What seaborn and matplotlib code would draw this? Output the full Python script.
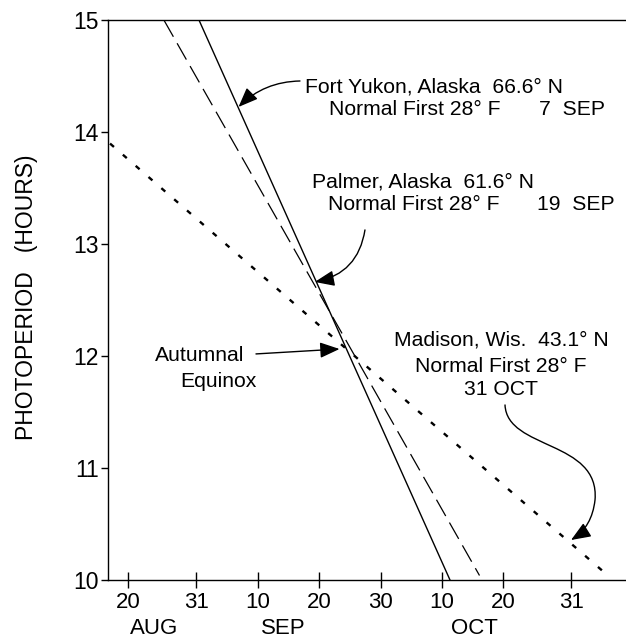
import matplotlib
matplotlib.use("Agg")
import numpy as np
import pandas as pd
import seaborn as sns
import matplotlib.pyplot as plt
from matplotlib.patches import FancyArrowPatch
from matplotlib.path import Path
import matplotlib.transforms as mtransforms

# Photoperiod lines (x = day of year, y = hours)
fort_yukon_doy = [243.5, 267.0, 284.3]
fort_yukon_hours = [15.0, 12.12, 10.0]
palmer_doy = [237.8, 267.6, 289.1]
palmer_hours = [15.0, 12.12, 10.04]
madison_doy = [229.0, 266.5, 310.4]
madison_hours = [13.90, 12.11, 10.02]

x_ticks = [232, 243, 253, 263, 273, 283, 293, 304]
x_tick_labels = ["20", "31", "10", "20", "30", "10", "20", "31"]
months = ["AUG", "SEP", "OCT"]
month_pos = [236.1, 257.2, 288.3]
y_ticks = [10, 11, 12, 13, 14, 15]

sns.set_theme(style="ticks")
plt.rcParams["font.family"] = ["Liberation Sans", "DejaVu Sans"]
plt.rcParams["text.color"] = "black"
plt.rcParams["axes.labelcolor"] = "black"
plt.rcParams["xtick.color"] = "black"
plt.rcParams["ytick.color"] = "black"

fig = plt.figure(figsize=(6.26, 6.41), dpi=100)
ax = fig.add_axes([0.1733, 0.0952, 0.8267, 0.8729])

fy = pd.DataFrame({"doy": fort_yukon_doy, "hours": fort_yukon_hours})
pa = pd.DataFrame({"doy": palmer_doy, "hours": palmer_hours})
ma = pd.DataFrame({"doy": madison_doy, "hours": madison_hours})

sns.lineplot(data=fy, x="doy", y="hours", ax=ax, color="black", lw=1.0,
             estimator=None, sort=False)
sns.lineplot(data=pa, x="doy", y="hours", ax=ax, color="black", lw=0.9,
             linestyle=(0, (15, 6)), estimator=None, sort=False)
sns.lineplot(data=ma, x="doy", y="hours", ax=ax, color="black", lw=1.7,
             linestyle=(0, (2.2, 5.0)), estimator=None, sort=False)

ax.set_xlim(228.75, 312.93)
ax.set_ylim(10, 15)
ax.set_xticks(x_ticks)
ax.set_xticklabels(x_tick_labels)
ax.set_yticks(y_ticks)
ax.tick_params(axis="x", direction="inout", length=11, width=1.0,
               labelsize=16, pad=3, color="black", labelcolor="black")
ax.tick_params(axis="y", direction="out", length=5, width=1.0,
               labelsize=16.5, pad=2, color="black", labelcolor="black")
ax.set_xlabel("")
ax.set_ylabel("PHOTOPERIOD   (HOURS)", fontsize=16.5, color="black")
ax.yaxis.set_label_coords(-0.137, 0.505)
for side in ["left", "bottom", "top"]:
    ax.spines[side].set_color("black")
    ax.spines[side].set_linewidth(1.0)
ax.spines["right"].set_visible(False)
ax.grid(False)

trans = mtransforms.blended_transform_factory(ax.transData, ax.transAxes)
for m, p in zip(months, month_pos):
    ax.text(p, -0.086, m, transform=trans, ha="center", va="center", fontsize=16)

fs = 15.2
ax.text(260.71, 14.408, "Fort Yukon, Alaska  66.6° N", fontsize=fs, va="center", ha="left")
ax.text(264.67, 14.20, "Normal First 28° F", fontsize=fs, va="center", ha="left")
ax.text(309.5, 14.20, "7  SEP", fontsize=fs, va="center", ha="right")
ax.text(261.8, 13.559, "Palmer, Alaska  61.6° N", fontsize=fs, va="center", ha="left")
ax.text(264.45, 13.351, "Normal First 28° F", fontsize=fs, va="center", ha="left")
ax.text(311.1, 13.351, "19  SEP", fontsize=fs, va="center", ha="right")
ax.text(236.31, 12.01, "Autumnal", fontsize=fs, va="center", ha="left")
ax.text(240.38, 11.772, "Equinox", fontsize=fs, va="center", ha="left")
ax.text(292.6, 12.145, "Madison, Wis.  43.1° N", fontsize=fs, va="center", ha="center")
ax.text(292.6, 11.906, "Normal First 28° F", fontsize=fs, va="center", ha="center")
ax.text(292.6, 11.698, "31 OCT", fontsize=fs, va="center", ha="center")

astyle = "-|>,head_length=0.6,head_width=0.24"
ax.annotate("", xy=(249.9, 14.227), xytext=(259.9, 14.459),
            arrowprops=dict(arrowstyle=astyle, color="black", lw=1.0,
                            mutation_scale=20, shrinkA=0, shrinkB=0,
                            connectionstyle="arc3,rad=0.2"))
ax.annotate("", xy=(262.3, 12.663), xytext=(270.47, 13.128),
            arrowprops=dict(arrowstyle=astyle, color="black", lw=1.0,
                            mutation_scale=20, shrinkA=0, shrinkB=0,
                            connectionstyle="arc3,rad=-0.35"))
ax.annotate("", xy=(266.33, 12.064), xytext=(252.74, 12.02),
            arrowprops=dict(arrowstyle=astyle, color="black", lw=1.0,
                            mutation_scale=20, shrinkA=0, shrinkB=0))

verts = [(293.25, 11.564), (293.57, 11.162), (308.7, 11.251), (307.89, 10.715),
         (307.4, 10.474), (303.99, 10.357)]
codes = [Path.MOVETO, Path.CURVE4, Path.CURVE4, Path.CURVE4, Path.CURVE3, Path.CURVE3]
curve = FancyArrowPatch(path=Path(verts, codes), arrowstyle=astyle, color="black",
                        lw=1.0, mutation_scale=20, transform=ax.transData)
ax.add_patch(curve)

fig.savefig("out.png", dpi=100)
